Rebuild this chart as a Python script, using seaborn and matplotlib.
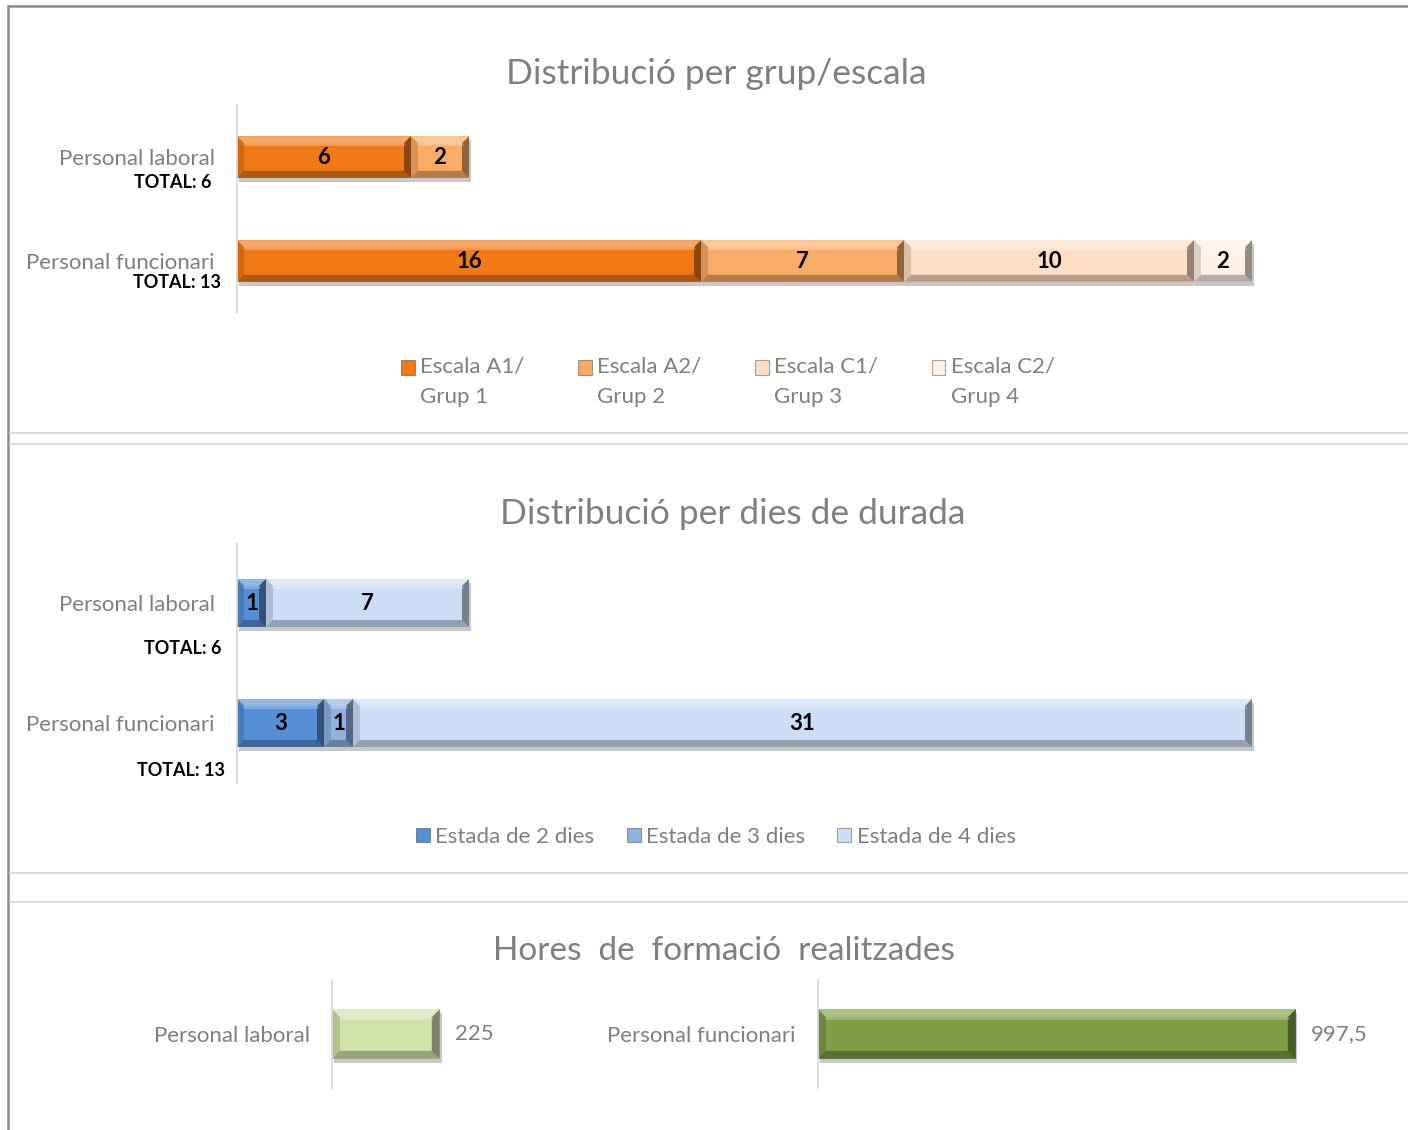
import numpy as np
import pandas as pd
import seaborn as sns
import matplotlib.pyplot as plt
import matplotlib.patheffects as pe
from matplotlib.patches import Polygon
from matplotlib.lines import Line2D

sns.set_theme(style="white")
plt.rcParams['font.family'] = ['Lato', 'DejaVu Sans']

# ---- data -------------------------------------------------------------
staff = ["Personal laboral", "Personal funcionari"]
staff_totals = ["TOTAL: 6", "TOTAL: 13"]

scale_groups = ["Escala A1/\nGrup 1", "Escala A2/\nGrup 2",
                "Escala C1/\nGrup 3", "Escala C2/\nGrup 4"]
scale_a1 = [6, 16]
scale_a2 = [2, 7]
scale_c1 = [0, 10]
scale_c2 = [0, 2]
scale_colors = ["#F07A16", "#FAAB66", "#FDDFC4", "#FEF1E7"]

stay_groups = ["Estada de 2 dies", "Estada de 3 dies", "Estada de 4 dies"]
stay_2 = [1, 3]
stay_3 = [0, 1]
stay_4 = [7, 31]
stay_colors = ["#5590D6", "#8FB3E0", "#CCDEF5"]

training_hours = [225, 997.5]
training_colors = ["#D2E3AA", "#7E9F45"]

titles = ["Distribució per grup/escala",
          "Distribució per dies de durada",
          "Hores  de  formació  realitzades"]

# ---- layout helpers ---------------------------------------------------
W, H, DPI = 1408, 1130, 100
fig = plt.figure(figsize=(W / DPI, H / DPI), dpi=DPI)
fig.patch.set_facecolor("white")

GRAY = "#7F7F7F"
AXIS_GRAY = "#D9D9D9"
LABEL_SIZE = 16


def px_axes(left, top, width, height):
    return fig.add_axes([left / W, 1 - (top + height) / H, width / W, height / H])


def style_axes(ax, pad):
    for side in ["top", "right", "bottom"]:
        ax.spines[side].set_visible(False)
    ax.spines["left"].set_color(AXIS_GRAY)
    ax.spines["left"].set_linewidth(1.3)
    ax.set_xticks([])
    ax.set_xlabel("")
    ax.set_ylabel("")
    ax.set_facecolor("none")
    ax.tick_params(axis="y", length=0, pad=pad, labelsize=LABEL_SIZE, labelcolor=GRAY)


def bevel(ax, depth=7):
    """Give each bar a bevelled, shaded look with a soft drop shadow."""
    inv = ax.transData.inverted()
    for p in list(ax.patches):
        if p.get_width() <= 0:
            continue
        p.set_path_effects([pe.SimplePatchShadow(offset=(1.5, -3), shadow_rgbFace="black", alpha=0.22),
                            pe.Normal()])
        bb = p.get_window_extent()
        x0, y0, x1, y1 = bb.x0, bb.y0, bb.x1, bb.y1
        d = min(depth, (x1 - x0) / 2, (y1 - y0) / 2)
        facets = [
            ([(x0, y1), (x1, y1), (x1 - d, y1 - d), (x0 + d, y1 - d)], "white", 0.35),
            ([(x0, y0), (x1, y0), (x1 - d, y0 + d), (x0 + d, y0 + d)], "black", 0.28),
            ([(x0, y0), (x0, y1), (x0 + d, y1 - d), (x0 + d, y0 + d)], "black", 0.14),
            ([(x1, y0), (x1, y1), (x1 - d, y1 - d), (x1 - d, y0 + d)], "black", 0.42),
        ]
        for pts, col, a in facets:
            poly = Polygon(inv.transform(pts), closed=True, facecolor=col, alpha=a,
                           edgecolor="none", zorder=2.5)
            ax.add_patch(poly)
        yl = y1 - d - 1
        ax.add_line(Line2D(*zip(*inv.transform([(x0 + d, yl), (x1 - d, yl)])),
                           color="white", alpha=0.25, lw=2, zorder=2.6))


def stacked(ax, series, names, colors):
    left = np.zeros(len(staff))
    for vals, name, col in zip(series, names, colors):
        df = pd.DataFrame({"staff": staff, "value": vals})
        sns.barplot(data=df, y="staff", x="value", order=staff, orient="h",
                    color=col, saturation=1, width=0.4, left=left.copy(),
                    label=name, edgecolor="none", ax=ax, errorbar=None)
        ax.bar_label(ax.containers[-1], labels=[str(v) if v else "" for v in vals],
                     label_type="center", fontweight="bold", fontsize=16,
                     color="black", zorder=4)
        left += np.array(vals)


def totals(ax, offsets_px):
    for i, (txt, (dx, dy)) in enumerate(zip(staff_totals, offsets_px)):
        ax.annotate(txt, xy=(0, i), xycoords=ax.get_yaxis_transform(),
                    xytext=(-dx, -dy), textcoords="offset pixels",
                    ha="right", va="center", fontsize=13, fontweight="bold",
                    color="black", annotation_clip=False)


def legend(ax, anchor, ncol, spacing, raise_handle=0.0):
    h, l = ax.get_legend_handles_labels()
    leg = ax.legend(h, l, loc="upper center", bbox_to_anchor=anchor,
                    bbox_transform=fig.transFigure, ncol=ncol, frameon=False,
                    fontsize=LABEL_SIZE, labelcolor=GRAY, handlelength=0.62,
                    handleheight=0.62, handletextpad=0.25, columnspacing=spacing)
    for t in leg.get_texts():
        t.set_linespacing(1.6)
    for hdl in leg.legend_handles:
        hdl.set_path_effects([])
        hdl.set_edgecolor("#00000055")
        hdl.set_linewidth(0.8)
        if raise_handle:
            hdl.set_y(hdl.get_y() + raise_handle)
    return leg


# ---- panel 1: by group/scale -------------------------------------------
ax1 = px_axes(237, 105, 1160, 208)
stacked(ax1, [scale_a1, scale_a2, scale_c1, scale_c2], scale_groups, scale_colors)
ax1.set_xlim(0, 40)
ax1.set_ylim(1.5, -0.5)
style_axes(ax1, pad=16)
totals(ax1, [(25, 25), (16, 21)])
bevel(ax1, depth=7)
legend(ax1, (728 / W, 1 - 337 / H), 4, 2.4, raise_handle=10.5)
fig.text(716 / W, 1 - 74 / H, titles[0], ha="center", va="center",
         fontsize=25.5, color=GRAY)

# ---- panel 2: by length of stay -----------------------------------------
ax2 = px_axes(237, 543, 1160, 240)
stacked(ax2, [stay_2, stay_3, stay_4], stay_groups, stay_colors)
ax2.set_xlim(0, 40)
ax2.set_ylim(1.5, -0.5)
style_axes(ax2, pad=16)
totals(ax2, [(16, 45), (12, 47)])
bevel(ax2, depth=7)
legend(ax2, (716 / W, 1 - 807 / H), 3, 1.45)
fig.text(733 / W, 1 - 514 / H, titles[1], ha="center", va="center",
         fontsize=25.5, color=GRAY)

# ---- panel 3: training hours ---------------------------------------------
for i, x_left in enumerate([332, 818]):
    ax = px_axes(x_left, 980, 479, 108)
    df = pd.DataFrame({"staff": [staff[i]], "hours": [training_hours[i]]})
    sns.barplot(data=df, y="staff", x="hours", orient="h", color=training_colors[i],
                saturation=1, width=0.46, edgecolor="none", ax=ax, errorbar=None)
    ax.bar_label(ax.containers[-1],
                 labels=[f"{training_hours[i]:g}".replace(".", ",")],
                 padding=11, fontsize=LABEL_SIZE, color=GRAY)
    ax.set_xlim(0, 1000)
    ax.set_ylim(0.5, -0.5)
    style_axes(ax, pad=16)
    bevel(ax, depth=8)
fig.text(724 / W, 1 - 951 / H, titles[2], ha="center", va="center",
         fontsize=24, color=GRAY)

# ---- frame and separators -------------------------------------------------
frame = "#8C8C8C"
fig.add_artist(Line2D([8 / W, 1], [1 - 6 / H, 1 - 6 / H], color=frame, lw=1.8))
fig.add_artist(Line2D([8 / W, 8 / W], [0, 1 - 6 / H], color=frame, lw=1.8))
for y in [433, 444, 873, 902]:
    fig.add_artist(Line2D([10 / W, 1], [1 - y / H, 1 - y / H], color="#DCDCDC", lw=1.5))

fig.savefig("out.png", dpi=DPI, facecolor="white")
